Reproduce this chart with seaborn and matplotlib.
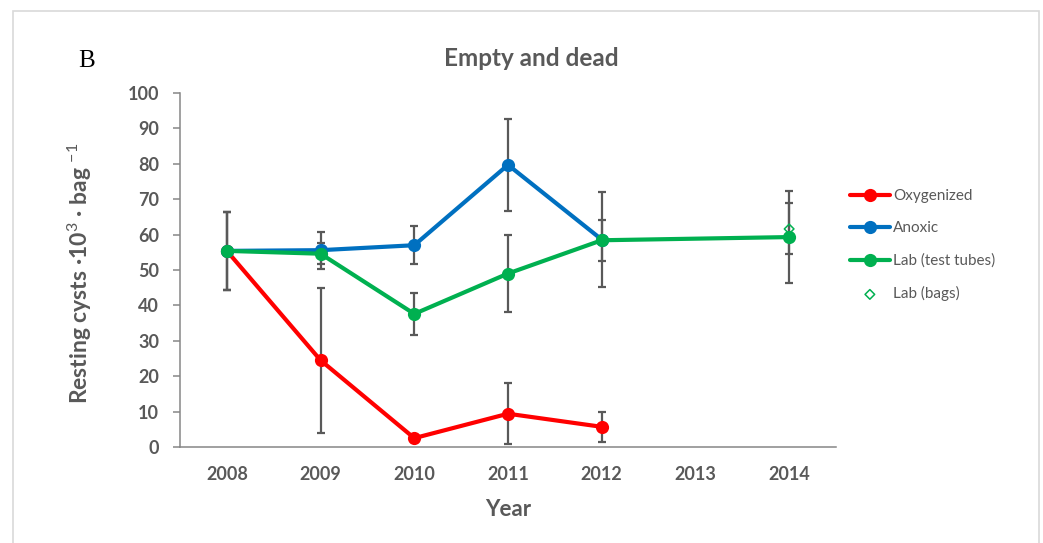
import matplotlib
matplotlib.use("Agg")
import matplotlib.pyplot as plt
import numpy as np
import pandas as pd
import seaborn as sns
from matplotlib.patches import Rectangle

# Field experiment years and lab years (no 2013 sampling in the lab)
years_field = [2008, 2009, 2010, 2011, 2012]
years_lab = [2008, 2009, 2010, 2011, 2012, 2014]
years_bags = [2014]

oxygenized = [55.4, 24.5, 2.5, 9.4, 5.7]
oxygenized_err = [11.0, 20.5, 1.0, 8.6, 4.2]
anoxic = [55.4, 55.6, 57.0, 79.7, 58.6]
anoxic_err = [11.0, 5.2, 5.4, 12.9, 13.5]
lab_tubes = [55.4, 54.6, 37.6, 49.0, 58.4, 59.3]
lab_tubes_err = [11.0, 3.0, 6.0, 10.8, 5.8, 12.9]
lab_bags = [61.6]
lab_bags_err = [7.2]

series_names = ["Oxygenized", "Anoxic", "Lab (test tubes)", "Lab (bags)"]
xticks = [2008, 2009, 2010, 2011, 2012, 2013, 2014]
yticks = list(range(0, 101, 10))

RED, BLUE, GREEN = "#FF0000", "#0070C0", "#00B050"
TEXT = "#595959"
AXIS = "#868686"

sns.set_style("white")
plt.rcParams["font.family"] = ["Lato", "DejaVu Sans"]
plt.rcParams["mathtext.fontset"] = "custom"
plt.rcParams["mathtext.rm"] = "Lato"
plt.rcParams["mathtext.bf"] = "Lato:bold"
plt.rcParams["mathtext.it"] = "Lato:italic"

df = pd.concat([
    pd.DataFrame({"year": years_field, "value": oxygenized, "series": series_names[0]}),
    pd.DataFrame({"year": years_field, "value": anoxic, "series": series_names[1]}),
    pd.DataFrame({"year": years_lab, "value": lab_tubes, "series": series_names[2]}),
], ignore_index=True)

fig = plt.figure(figsize=(10.43, 5.43), dpi=100)
ax = fig.add_axes([180 / 1043, 1 - 447 / 543, 656 / 1043, 354 / 543])

# error bars sit underneath the lines
err_style = dict(fmt="none", ecolor=TEXT, elinewidth=1.6, capsize=3, capthick=1.6, zorder=1.5)
ax.errorbar(years_field, oxygenized, yerr=oxygenized_err, **err_style)
ax.errorbar(years_field, anoxic, yerr=anoxic_err, **err_style)
ax.errorbar(years_lab, lab_tubes, yerr=lab_tubes_err, **err_style)
ax.errorbar(years_bags, lab_bags, yerr=lab_bags_err, **err_style)

sns.lineplot(data=df, x="year", y="value", hue="series",
             hue_order=series_names[:3], palette=[RED, BLUE, GREEN],
             marker="o", markersize=9.5, markeredgewidth=0, linewidth=3.0,
             sort=True, ax=ax, zorder=3)
sns.scatterplot(x=years_bags, y=lab_bags, marker="D", s=24,
                facecolors="none", edgecolor=GREEN, linewidth=1.1,
                ax=ax, zorder=4, label=series_names[3])

ax.set_xlim(2007.5, 2014.5)
ax.set_ylim(0, 100)
ax.set_xticks(xticks)
ax.set_xticklabels([str(t) for t in xticks])
ax.set_yticks(yticks)
ax.set_yticklabels([str(t) for t in yticks])

for side in ("top", "right"):
    ax.spines[side].set_visible(False)
for side in ("left", "bottom"):
    ax.spines[side].set_color(AXIS)
    ax.spines[side].set_linewidth(1.1)

ax.tick_params(axis="y", which="major", left=True, length=5, width=1.1,
               color=AXIS, pad=10, labelsize=13, labelcolor=TEXT)
ax.tick_params(axis="x", which="major", bottom=False, length=0, pad=14,
               labelsize=13, labelcolor=TEXT)
for lab in ax.get_xticklabels() + ax.get_yticklabels():
    lab.set_fontweight("bold")

ax.set_xlabel("Year", fontsize=16, fontweight="bold", color=TEXT, labelpad=11)
ax.set_ylabel(r"Resting cysts ·10$^{3}$ · bag $^{-1}$", fontsize=16.5,
              fontweight="bold", color=TEXT)
ax.yaxis.set_label_coords(-0.131, 0.49)

fig.text(531 / 1043, 1 - 58 / 543, "Empty and dead", ha="center", va="center",
         fontsize=17.5, fontweight="bold", color=TEXT)
fig.text(87 / 1043, 1 - 61 / 543, "B", ha="center", va="center",
         fontsize=18, family="Liberation Serif", color="black")

handles, labels = ax.get_legend_handles_labels()
order = [labels.index(n) for n in series_names]
leg = ax.legend([handles[i] for i in order], [labels[i] for i in order],
                loc="upper left", bbox_to_anchor=(850 / 1043, 1 - 189 / 543),
                bbox_transform=fig.transFigure, frameon=False, fontsize=11,
                handlelength=2.6, handletextpad=0.2, labelspacing=1.2,
                borderpad=0, borderaxespad=0)
for t in leg.get_texts():
    t.set_color(TEXT)

# light frame around the whole figure
fig.patches.append(Rectangle((13 / 1043, -0.02), (1039 - 13) / 1043, 1 - 11 / 543 + 0.02,
                             transform=fig.transFigure, fill=False,
                             edgecolor="#D9D9D9", linewidth=1.2))

fig.savefig("out.png", dpi=100, facecolor="white")
